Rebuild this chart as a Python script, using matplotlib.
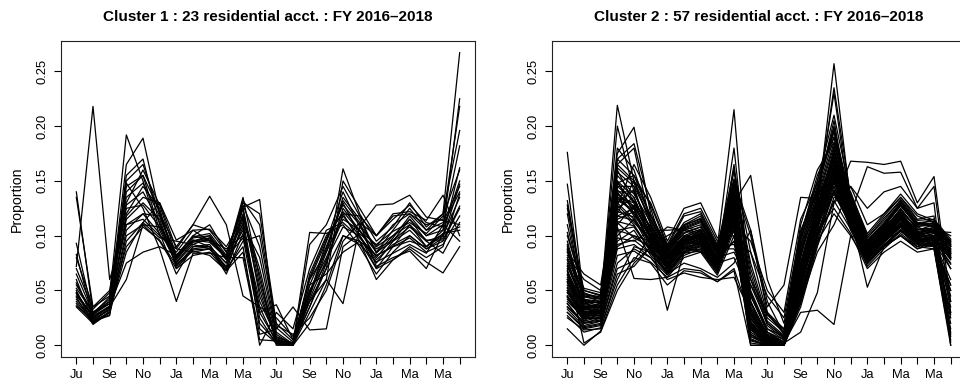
import numpy as np
import matplotlib
matplotlib.use("Agg")
import matplotlib.pyplot as plt

plt.rcParams['font.family'] = ['Liberation Sans', 'DejaVu Sans']

# mois : juillet 2016 -> juin 2018
mois = ["Ju", "Au", "Se", "Oc", "No", "De", "Ja", "Fe", "Ma", "Ap", "Ma", "Ju",
        "Ju", "Au", "Se", "Oc", "No", "De", "Ja", "Fe", "Ma", "Ap", "Ma", "Ju"]

titres = ["Cluster 1 : 23 residential acct. : FY 2016\u20132018",
          "Cluster 2 : 57 residential acct. : FY 2016\u20132018"]

# proportions mensuelles (en millièmes), une ligne par compte
cluster1 = [
    [140, 30, 38, 150, 165, 120, 80, 100, 110, 85, 125, 55, 5, 1, 45, 85, 135, 115, 85, 105, 125, 105, 120, 267],
    [72, 218, 60, 110, 120, 118, 78, 98, 100, 78, 105, 40, 8, 2, 50, 75, 125, 105, 80, 98, 118, 100, 105, 225],
    [135, 35, 45, 192, 150, 100, 85, 105, 95, 82, 130, 120, 20, 5, 60, 95, 140, 108, 90, 110, 120, 110, 115, 218],
    [93, 28, 40, 165, 189, 120, 90, 110, 105, 85, 110, 80, 10, 0, 40, 70, 161, 120, 95, 108, 130, 108, 120, 196],
    [83, 25, 35, 155, 170, 110, 80, 95, 100, 80, 135, 60, 5, 0, 30, 60, 150, 125, 100, 115, 128, 112, 108, 182],
    [60, 22, 33, 140, 155, 105, 75, 92, 98, 78, 120, 50, 3, 1, 55, 90, 130, 100, 75, 95, 115, 95, 100, 162],
    [55, 30, 42, 130, 160, 128, 82, 100, 96, 88, 100, 35, 2, 0, 65, 100, 120, 95, 70, 90, 110, 90, 105, 150],
    [50, 20, 30, 120, 145, 125, 70, 88, 90, 75, 115, 30, 4, 2, 103, 102, 110, 90, 65, 85, 100, 88, 98, 147],
    [48, 25, 35, 115, 130, 115, 72, 90, 92, 70, 125, 45, 6, 1, 45, 95, 128, 110, 90, 100, 115, 100, 110, 140],
    [45, 28, 38, 110, 115, 100, 88, 85, 88, 72, 108, 25, 1, 0, 50, 80, 115, 105, 85, 95, 105, 90, 100, 135],
    [52, 30, 40, 125, 128, 108, 80, 96, 94, 80, 98, 20, 3, 1, 35, 75, 120, 118, 100, 118, 120, 105, 112, 145],
    [42, 24, 32, 100, 110, 95, 70, 82, 85, 68, 112, 15, 2, 0, 20, 55, 100, 95, 60, 78, 90, 80, 90, 138],
    [40, 22, 30, 105, 120, 102, 65, 90, 90, 65, 102, 30, 37, 5, 60, 85, 118, 100, 78, 92, 100, 88, 95, 125],
    [38, 21, 28, 95, 112, 98, 95, 92, 88, 70, 90, 0, 30, 15, 70, 105, 112, 98, 82, 90, 98, 85, 92, 118],
    [36, 23, 34, 90, 108, 96, 73, 86, 82, 68, 85, 10, 15, 35, 14, 15, 90, 102, 88, 96, 108, 95, 84, 112],
    [35, 20, 31, 85, 112, 130, 88, 110, 136, 110, 45, 35, 25, 8, 40, 60, 38, 108, 128, 129, 137, 117, 114, 110],
    [48, 26, 36, 75, 85, 90, 82, 95, 98, 80, 80, 5, 4, 0, 55, 65, 85, 95, 82, 90, 95, 90, 102, 105],
    [57, 27, 35, 60, 110, 108, 74, 87, 88, 68, 95, 100, 18, 10, 25, 50, 95, 112, 100, 120, 122, 114, 137, 100],
    [65, 29, 44, 128, 140, 112, 78, 96, 90, 75, 118, 70, 7, 2, 35, 70, 100, 92, 76, 84, 92, 84, 110, 95],
    [70, 33, 48, 135, 148, 118, 82, 99, 102, 82, 128, 90, 12, 1, 42, 78, 108, 100, 70, 78, 88, 76, 66, 90],
    [80, 35, 50, 145, 155, 122, 76, 94, 96, 79, 132, 110, 16, 3, 48, 88, 132, 112, 72, 80, 86, 70, 102, 108],
    [47, 22, 27, 148, 125, 88, 40, 84, 84, 80, 126, 133, 4, 0, 92, 110, 145, 118, 84, 100, 110, 96, 96, 127],
    [44, 19, 30, 118, 135, 130, 96, 105, 106, 90, 116, 65, 0, 0, 62, 98, 122, 104, 92, 104, 112, 102, 118, 160],
]

cluster2 = [
    [176, 40, 30, 150, 120, 95, 75, 95, 105, 80, 140, 20, 3, 0, 60, 120, 170, 125, 85, 100, 120, 100, 105, 80],
    [147, 35, 28, 160, 130, 100, 80, 100, 98, 82, 135, 25, 5, 1, 70, 115, 180, 115, 80, 95, 110, 95, 100, 70],
    [132, 45, 40, 219, 150, 110, 85, 105, 110, 85, 125, 10, 2, 0, 55, 105, 165, 110, 78, 98, 112, 98, 95, 60],
    [128, 42, 38, 200, 140, 105, 82, 98, 98, 80, 130, 15, 0, 0, 65, 125, 257, 130, 90, 105, 125, 105, 110, 85],
    [120, 38, 35, 180, 160, 115, 88, 110, 115, 88, 150, 30, 8, 2, 75, 130, 235, 135, 95, 110, 130, 110, 115, 90],
    [100, 50, 45, 175, 199, 120, 90, 112, 120, 90, 215, 35, 10, 3, 80, 135, 230, 125, 92, 108, 128, 108, 112, 95],
    [92, 33, 30, 170, 184, 125, 78, 96, 102, 78, 180, 40, 5, 1, 85, 140, 205, 120, 88, 102, 118, 102, 108, 100],
    [88, 30, 32, 165, 180, 110, 75, 92, 95, 75, 165, 45, 12, 5, 90, 145, 200, 118, 86, 100, 116, 100, 104, 103],
    [85, 65, 55, 150, 135, 100, 72, 90, 92, 72, 160, 50, 15, 8, 95, 150, 195, 122, 84, 98, 114, 98, 102, 96],
    [82, 60, 50, 145, 145, 95, 70, 88, 90, 70, 130, 155, 60, 20, 100, 155, 190, 112, 82, 96, 112, 96, 100, 92],
    [80, 52, 48, 140, 140, 105, 68, 86, 88, 68, 150, 105, 40, 10, 110, 160, 185, 128, 90, 104, 120, 104, 106, 88],
    [78, 48, 42, 138, 125, 90, 65, 84, 86, 66, 148, 100, 35, 55, 135, 134, 168, 110, 80, 95, 108, 94, 98, 84],
    [45, 22, 36, 108, 61, 60, 62, 70, 68, 58, 70, 25, 5, 0, 45, 95, 120, 100, 75, 90, 100, 88, 95, 20],
    [38, 20, 25, 90, 100, 95, 108, 105, 100, 85, 105, 48, 12, 2, 30, 32, 19, 100, 95, 105, 110, 100, 92, 55],
    [30, 15, 18, 75, 88, 80, 60, 66, 62, 60, 62, 30, 8, 1, 60, 100, 130, 168, 167, 165, 168, 130, 154, 40],
    [27, 12, 16, 60, 90, 85, 65, 75, 70, 62, 75, 105, 30, 15, 85, 130, 150, 120, 163, 157, 158, 125, 145, 30],
    [15, 0, 13, 55, 80, 75, 55, 68, 66, 58, 68, 0, 0, 0, 40, 85, 110, 145, 125, 140, 145, 125, 130, 0],
    [62, 28, 30, 130, 115, 95, 32, 85, 95, 78, 120, 5, 0, 0, 50, 110, 160, 118, 53, 90, 105, 90, 100, 35],
    [70, 2, 12, 50, 75, 90, 80, 95, 100, 80, 95, 10, 0, 2, 12, 48, 130, 145, 110, 120, 135, 115, 118, 10],
    [55, 30, 27, 125, 110, 85, 75, 95, 102, 75, 128, 18, 3, 0, 62, 118, 162, 125, 88, 102, 118, 104, 95, 45],
    [48, 25, 24, 118, 125, 90, 70, 88, 95, 72, 118, 12, 2, 0, 55, 112, 155, 120, 85, 100, 115, 100, 98, 82],
    [60, 35, 38, 140, 118, 102, 82, 98, 105, 80, 135, 28, 6, 1, 72, 125, 175, 130, 92, 108, 122, 108, 102, 86],
    [52, 28, 30, 110, 128, 98, 78, 92, 98, 74, 122, 22, 4, 0, 58, 115, 158, 115, 80, 96, 112, 96, 94, 30],
    [42, 24, 28, 100, 115, 88, 72, 90, 96, 70, 115, 16, 2, 0, 52, 108, 150, 112, 78, 94, 108, 92, 90, 15],
    [65, 33, 35, 135, 130, 108, 85, 102, 108, 85, 132, 35, 8, 2, 68, 122, 170, 128, 90, 106, 124, 106, 104, 88],
    [58, 30, 32, 128, 112, 96, 76, 94, 100, 78, 126, 24, 5, 1, 64, 118, 165, 122, 86, 104, 120, 104, 100, 80],
    [50, 26, 29, 115, 122, 92, 74, 92, 97, 76, 120, 20, 3, 0, 60, 112, 160, 118, 84, 100, 116, 100, 97, 50],
    [44, 22, 26, 105, 108, 86, 68, 86, 92, 70, 112, 14, 2, 0, 54, 106, 152, 114, 80, 96, 110, 96, 93, 25],
    [75, 40, 36, 142, 126, 104, 84, 100, 106, 84, 138, 40, 10, 3, 76, 128, 178, 126, 88, 104, 122, 102, 106, 84],
    [68, 36, 34, 136, 120, 100, 80, 96, 103, 80, 134, 32, 7, 1, 70, 124, 172, 124, 87, 103, 119, 101, 103, 81],
    [35, 20, 22, 95, 105, 82, 66, 84, 90, 68, 108, 10, 1, 0, 48, 102, 145, 110, 76, 92, 106, 94, 92, 8],
    [90, 42, 40, 155, 138, 112, 86, 106, 112, 86, 145, 60, 18, 6, 88, 135, 185, 132, 94, 110, 128, 110, 110, 90],
    [60, 46, 44, 120, 150, 130, 92, 120, 125, 95, 110, 8, 1, 0, 45, 100, 150, 140, 100, 118, 135, 118, 112, 93],
    [72, 38, 40, 128, 165, 135, 95, 125, 130, 98, 100, 6, 0, 0, 40, 95, 140, 135, 98, 116, 132, 112, 108, 90],
    [85, 44, 42, 148, 155, 128, 90, 118, 122, 92, 118, 4, 0, 0, 35, 90, 135, 138, 102, 120, 138, 120, 114, 95],
    [45, 26, 30, 112, 98, 90, 100, 108, 104, 88, 88, 60, 30, 10, 70, 118, 140, 112, 82, 96, 104, 94, 96, 74],
    [40, 25, 26, 98, 95, 105, 105, 106, 102, 90, 92, 55, 28, 12, 72, 122, 145, 108, 78, 92, 100, 90, 94, 70],
    [53, 29, 31, 118, 114, 94, 76, 93, 99, 77, 124, 21, 4, 0, 61, 116, 162, 119, 85, 101, 117, 101, 96, 79],
    [64, 32, 33, 132, 124, 97, 79, 97, 101, 79, 129, 27, 6, 1, 66, 120, 168, 121, 87, 103, 118, 102, 99, 83],
    [57, 31, 29, 122, 117, 91, 73, 91, 97, 75, 121, 19, 3, 0, 59, 114, 157, 117, 83, 99, 114, 99, 95, 40],
    [48, 27, 27, 113, 109, 87, 70, 89, 94, 73, 117, 17, 2, 0, 56, 110, 153, 116, 82, 97, 112, 97, 92, 55],
    [78, 35, 37, 145, 132, 106, 83, 99, 104, 83, 140, 38, 9, 2, 74, 127, 176, 127, 89, 105, 121, 103, 105, 86],
    [95, 40, 39, 158, 145, 115, 87, 107, 113, 87, 148, 65, 20, 7, 92, 138, 190, 133, 95, 111, 129, 111, 111, 91],
    [110, 45, 43, 165, 150, 118, 89, 109, 116, 89, 152, 70, 22, 9, 96, 142, 195, 131, 93, 109, 127, 109, 109, 92],
    [38, 18, 22, 88, 92, 80, 64, 82, 88, 66, 105, 0, 0, 0, 42, 98, 140, 108, 74, 90, 104, 92, 90, 5],
    [33, 17, 20, 82, 86, 76, 62, 80, 85, 64, 100, 2, 0, 0, 38, 92, 132, 106, 72, 88, 102, 90, 88, 0],
    [50, 28, 30, 125, 135, 100, 78, 94, 99, 78, 95, 85, 45, 25, 105, 140, 150, 105, 80, 94, 108, 95, 96, 75],
    [58, 34, 36, 130, 142, 104, 81, 96, 101, 80, 110, 95, 50, 30, 115, 148, 155, 108, 83, 97, 111, 97, 98, 78],
    [44, 24, 25, 105, 100, 88, 71, 88, 93, 71, 115, 15, 2, 0, 53, 107, 148, 113, 79, 95, 109, 95, 91, 28],
    [67, 34, 34, 134, 121, 99, 78, 95, 100, 79, 131, 29, 6, 1, 67, 121, 169, 122, 86, 102, 117, 100, 100, 80],
    [73, 37, 35, 138, 127, 101, 81, 97, 102, 81, 135, 33, 7, 1, 71, 123, 173, 125, 88, 104, 120, 102, 103, 84],
    [30, 16, 19, 70, 77, 100, 92, 95, 92, 80, 85, 55, 20, 8, 65, 112, 138, 110, 77, 90, 100, 88, 92, 50],
    [25, 14, 15, 65, 72, 90, 85, 88, 86, 75, 80, 45, 15, 5, 58, 105, 125, 102, 70, 85, 95, 85, 88, 3],
    [87, 41, 38, 148, 130, 108, 86, 103, 108, 85, 142, 48, 12, 3, 82, 132, 182, 129, 91, 107, 124, 106, 107, 87],
    [103, 47, 44, 162, 148, 114, 88, 108, 114, 88, 150, 75, 25, 12, 98, 145, 198, 134, 96, 112, 131, 112, 113, 94],
    [125, 50, 46, 170, 155, 118, 90, 110, 118, 90, 160, 85, 28, 14, 102, 150, 210, 137, 98, 114, 133, 114, 115, 97],
    [35, 21, 23, 92, 96, 84, 67, 85, 91, 69, 110, 8, 1, 0, 46, 100, 142, 109, 75, 91, 105, 93, 91, 12],
]

yticks = [0.00, 0.05, 0.10, 0.15, 0.20, 0.25]

fig = plt.figure(figsize=(9.6, 3.81), dpi=100)
W, H = 960, 381
positions = [61, 552]

for k, (data, titre) in enumerate(zip([cluster1, cluster2], titres)):
    ax = fig.add_axes([positions[k] / W, 24 / H, 414 / W, 316 / H])
    x = np.arange(1, len(mois) + 1)
    for serie in data:
        ax.plot(x, np.array(serie) / 1000, color='black', lw=0.9)

    ax.set_xlim(0.08, 24.92)
    ax.set_ylim(-0.0107, 0.2777)
    ax.set_xticks(x)
    ax.set_xticklabels([m if i % 2 == 0 else "" for i, m in enumerate(mois)])
    ax.set_yticks(yticks)
    ax.set_yticklabels(["%.2f" % v for v in yticks], rotation=90, va='center')
    ax.tick_params(direction='out', length=5, width=0.8, labelsize=9.3, pad=4)
    for s in ax.spines.values():
        s.set_linewidth(0.8)
        s.set_color('#222222')

    ax.set_ylabel("Proportion", fontsize=10.2)
    ax.yaxis.set_label_coords(-44 / 414, 0.5)
    ax.yaxis.label.set_va('center')
    ax.text(0.5, 1 + 24 / 316, titre, transform=ax.transAxes, ha='center',
            va='center', fontsize=11, fontweight='bold')

fig.savefig("out.png", dpi=100)
